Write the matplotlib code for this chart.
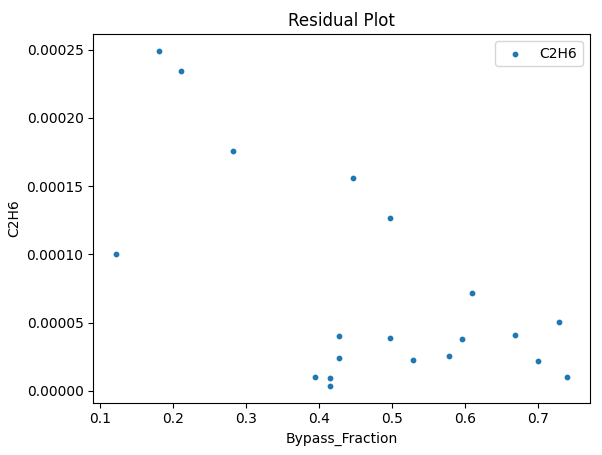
import matplotlib
matplotlib.use("Agg")
import matplotlib.pyplot as plt

bypass_fraction = [0.122, 0.181, 0.211, 0.282, 0.446, 0.497, 0.610, 0.427, 0.497, 0.596,
                   0.668, 0.729, 0.427, 0.529, 0.578, 0.700, 0.395, 0.415, 0.415, 0.740]
c2h6 = [0.000100, 0.000249, 0.000234, 0.000176, 0.000156, 0.000127, 0.0000716, 0.0000402,
        0.0000387, 0.0000380, 0.0000409, 0.0000504, 0.0000241, 0.0000227, 0.0000256,
        0.0000219, 0.0000102, 0.0000095, 0.0000037, 0.0000102]

fig, ax = plt.subplots(figsize=(6.02, 4.55), dpi=100)
ax.scatter(bypass_fraction, c2h6, s=10, label="C2H6")
ax.set_xlabel("Bypass_Fraction")
ax.set_ylabel("C2H6")
ax.set_title("Residual Plot")
ax.legend()
fig.subplots_adjust(left=0.155, right=0.98, top=0.925, bottom=0.115)
fig.savefig("out.png")
